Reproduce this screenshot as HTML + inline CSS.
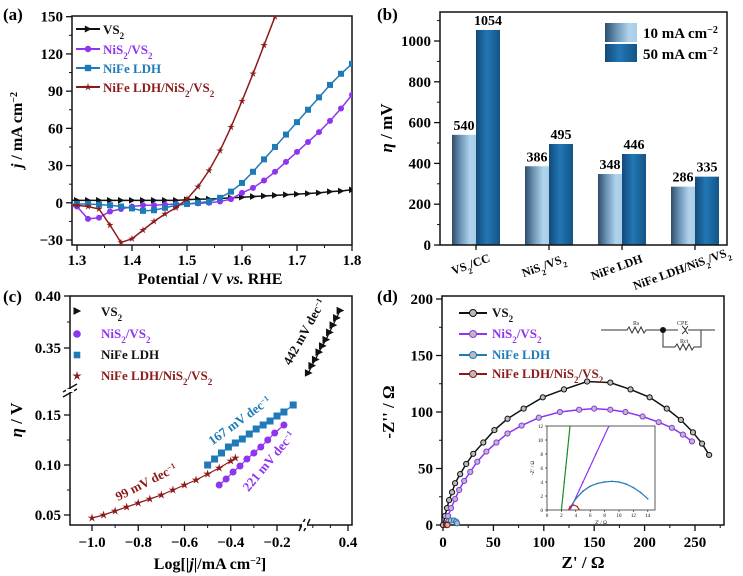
<!DOCTYPE html>
<html><head><meta charset="utf-8"><style>
html,body{margin:0;padding:0;background:#fff;}
svg{display:block;font-family:"Liberation Serif",serif;font-weight:bold;}
</style></head><body>
<svg id="fig" width="743" height="576" viewBox="0 0 743 576" xmlns="http://www.w3.org/2000/svg">
<defs>
<linearGradient id="g10" x1="0" x2="1" y1="0" y2="0"><stop offset="0" stop-color="#2e4c69"/><stop offset="0.35" stop-color="#6b93b5"/><stop offset="0.75" stop-color="#b0d4ec"/><stop offset="1" stop-color="#a9cde6"/></linearGradient>
<linearGradient id="g50" x1="0" x2="1" y1="0" y2="0"><stop offset="0" stop-color="#124a78"/><stop offset="0.45" stop-color="#2277b5"/><stop offset="1" stop-color="#145485"/></linearGradient>
<clipPath id="clipA"><rect x="72" y="16" width="280" height="229"/></clipPath>
<clipPath id="clipInset"><rect x="547" y="426" width="108" height="84"/></clipPath>
</defs>

<text x="3" y="20" font-size="17">(a)</text>
<text x="377" y="20" font-size="17">(b)</text>
<text x="3" y="302" font-size="17">(c)</text>
<text x="377" y="302" font-size="17">(d)</text>

<g id="pa">
<text x="210" y="284" font-size="16" text-anchor="middle">Potential / V <tspan font-style="italic">vs.</tspan> RHE</text>
<text transform="translate(22,130) rotate(-90)" font-size="16" text-anchor="middle"><tspan font-style="italic">j</tspan> / mA cm<tspan baseline-shift="super" font-size="10">−2</tspan></text>
<g font-size="13">
<text x="103" y="34" fill="#111">VS<tspan baseline-shift="sub" font-size="9">2</tspan></text>
<text x="103" y="54" fill="#8e35ef">NiS<tspan baseline-shift="sub" font-size="9">2</tspan>/VS<tspan baseline-shift="sub" font-size="9">2</tspan></text>
<text x="103" y="73" fill="#1f7ab8">NiFe LDH</text>
<text x="103" y="92" fill="#8b1a1a">NiFe LDH/NiS<tspan baseline-shift="sub" font-size="9">2</tspan>/VS<tspan baseline-shift="sub" font-size="9">2</tspan></text>
</g>
</g>

<g id="pb">
<text transform="translate(392,128) rotate(-90)" font-size="17" text-anchor="middle"><tspan font-style="italic">η</tspan> / mV</text>
<rect x="605" y="23" width="32" height="19" fill="url(#g10)"/>
<rect x="605" y="44" width="32" height="18" fill="url(#g50)"/>
<text x="643" y="38" font-size="15">10 mA cm<tspan baseline-shift="super" font-size="10">−2</tspan></text>
<text x="643" y="59" font-size="15">50 mA cm<tspan baseline-shift="super" font-size="10">−2</tspan></text>
</g>

<g id="pc">
<text x="210" y="569" font-size="16" text-anchor="middle">Log[|<tspan font-style="italic">j</tspan>|/mA cm<tspan baseline-shift="super" font-size="10">−2</tspan>]</text>
<text transform="translate(22,420) rotate(-90)" font-size="17" text-anchor="middle"><tspan font-style="italic">η</tspan> / V</text>
<g font-size="13">
<text x="101" y="316" fill="#111">VS<tspan baseline-shift="sub" font-size="9">2</tspan></text>
<text x="101" y="338" fill="#8e35ef">NiS<tspan baseline-shift="sub" font-size="9">2</tspan>/VS<tspan baseline-shift="sub" font-size="9">2</tspan></text>
<text x="101" y="359" fill="#111">NiFe LDH</text>
<text x="101" y="380" fill="#8b1a1a">NiFe LDH/NiS<tspan baseline-shift="sub" font-size="9">2</tspan>/VS<tspan baseline-shift="sub" font-size="9">2</tspan></text>
</g>
<text transform="translate(308,334) rotate(-61)" font-size="13" text-anchor="middle" fill="#111">442 mV dec<tspan baseline-shift="super" font-size="8">−1</tspan></text>
<text transform="translate(242,424) rotate(-36)" font-size="13" text-anchor="middle" fill="#1f7ab8">167 mV dec<tspan baseline-shift="super" font-size="8">−1</tspan></text>
<text transform="translate(272,464) rotate(-50)" font-size="13" text-anchor="middle" fill="#8e35ef">221 mV dec<tspan baseline-shift="super" font-size="8">−1</tspan></text>
<text transform="translate(148,486) rotate(-27)" font-size="13" text-anchor="middle" fill="#8b1a1a">99 mV dec<tspan baseline-shift="super" font-size="8">−1</tspan></text>
</g>

<g id="pd">
<text x="583" y="568" font-size="17" text-anchor="middle">Z' / Ω</text>
<text transform="translate(394,412) rotate(-90)" font-size="17" text-anchor="middle">-Z'' / Ω</text>
<g id="dLegend" font-size="13">
<text x="492" y="317" fill="#111">VS<tspan baseline-shift="sub" font-size="9">2</tspan></text>
<text x="492" y="338" fill="#8e35ef">NiS<tspan baseline-shift="sub" font-size="9">2</tspan>/VS<tspan baseline-shift="sub" font-size="9">2</tspan></text>
<text x="492" y="359" fill="#1f7ab8">NiFe LDH</text>
<text x="492" y="378" fill="#8b1a1a">NiFe LDH/NiS<tspan baseline-shift="sub" font-size="9">2</tspan>/VS<tspan baseline-shift="sub" font-size="9">2</tspan></text>
</g>
<g stroke="#333" stroke-width="1" fill="none">
<path d="M601,330 H627 l2,-3 l3,6 l3,-6 l3,6 l3,-6 l3,6 l2,-3 H678 M682,326 l4,4 l-4,4 M688,326 l-3,4 l3,4 M688,330 H715 M663,330 V347 H675 l2,-3 l3,6 l3,-6 l3,6 l3,-6 l3,6 l2,-3 H701 V330"/>
</g>
<circle cx="663" cy="330" r="3" fill="#111"/>
<text x="633" y="325" font-size="6" font-weight="normal" fill="#333">Rs</text>
<text x="677" y="325" font-size="6" font-weight="normal" fill="#333">CPE</text>
<text x="680" y="343" font-size="6" font-weight="normal" fill="#333">Rct</text>
</g>
</svg>
<script>
const NS = 'http://www.w3.org/2000/svg';
const svg = document.getElementById('fig');

// Panel a: LSV
const aPotential = [1.28,1.30,1.32,1.34,1.36,1.38,1.40,1.42,1.44,1.46,1.48,1.50,1.52,1.54,1.56,1.58,1.60,1.62,1.64,1.66,1.68,1.70,1.72,1.74,1.76,1.78,1.80];
const aVS2 = [2,2,2,2,2,2,2,2,2,2,2,2.5,3,3,3.5,4,4.5,5,5.5,6,6.5,7,7.5,8,9,9.5,10.5];
const aNiS2 = [-3,-3,-13,-12,-7,-5,-3,-2,-2,-1.5,-1,-1,-0.5,0,1,3,8,12,18,25,33,41,49,57,66,76,87];
const aNiFe = [-1,-1,-1,-1.5,-2,-3,-4.5,-6.5,-6,-4,-2,-1,0,1,4,9,16,25,35,45,55,65,75,85,95,104,112];
const aComposite = [-2,-2,-3,-5,-18,-32,-29,-22,-15,-9,-4,3,13,26,42,61,82,104,127,150,175,200,220,240,260,280,300];
const aYTicks = [-30,0,30,60,90,120,150];
const aXTicks = [1.3,1.4,1.5,1.6,1.7,1.8];

// Panel b
const bCategories = ['VS2/CC','NiS2/VS2','NiFe LDH','NiFe LDH/NiS2/VS2'];
const b10 = [540,386,348,286];
const b50 = [1054,495,446,335];
const bYTicks = [0,200,400,600,800,1000];

// Panel c
const cVS2x = [0.310,0.318,0.326,0.334,0.342,0.350,0.358,0.366,0.374,0.382];
const cVS2y = [0.326,0.333,0.339,0.346,0.352,0.358,0.365,0.372,0.379,0.386];
const cNiS2x = [-0.45,-0.42,-0.39,-0.36,-0.33,-0.30,-0.27,-0.24,-0.21,-0.17];
const cNiS2y = [0.080,0.086,0.093,0.099,0.106,0.112,0.118,0.125,0.132,0.140];
const cNiFex = [-0.50,-0.47,-0.44,-0.41,-0.38,-0.35,-0.32,-0.29,-0.26,-0.23,-0.20,-0.17,-0.13];
const cNiFey = [0.100,0.106,0.112,0.118,0.122,0.126,0.131,0.136,0.140,0.144,0.149,0.153,0.160];
const cCompx = [-1.0,-0.95,-0.9,-0.85,-0.8,-0.75,-0.7,-0.65,-0.6,-0.55,-0.5,-0.45,-0.4,-0.38];
const cCompy = [0.047,0.050,0.054,0.058,0.062,0.066,0.070,0.075,0.080,0.085,0.091,0.097,0.104,0.107];
const cYTicksLow = [0.05,0.10,0.15];
const cYTicksHigh = [0.35,0.40];
const cXTicks = [-1.0,-0.8,-0.6,-0.4,-0.2];

// Panel d
const dVS2 = [[0,0],[2,8],[4,15],[6,22],[9,29],[12,37],[17,45],[23,54],[30,63],[40,73],[51,84],[64,94],[80,103],[99,113],[120,120],[143,127],[166,126],[186,120],[205,113],[222,103],[236,93],[248,82],[257,72],[264,62]];
const dNiS2 = [[3,0],[5,8],[8,15],[12,23],[16,31],[21,39],[27,47],[34,56],[43,65],[53,73],[64,81],[78,88],[95,95],[116,100],[135,102],[150,103],[166,102],[181,100],[198,96],[214,91],[227,86],[238,80],[247,74]];
const dNiFe = [[3,0],[5,3],[8,4],[11,4],[13,3],[14,1.5]];
const dComp = [[3,0],[3.3,0.5],[3.8,0.6],[4.2,0.3],[4.4,0]];
const dXTicks = [0,50,100,150,200,250];
const dYTicks = [0,50,100,150,200];
const inGreen = [[2,0],[2.2,2],[2.4,4],[2.6,6],[2.8,8],[3.0,10],[3.2,12]];
const inPurple = [[3.2,0],[4.1,2],[5,4],[5.9,6],[6.8,8],[7.7,10],[8.6,12]];
const inBlue = [[3,0],[4,1.6],[5,2.7],[6,3.4],[7,3.8],[8,4],[9,4.1],[10,4],[11,3.7],[12,3.2],[13,2.5],[14,1.6]];
const inRed = [[3,0],[3.2,0.5],[3.7,0.7],[4.2,0.5],[4.5,0]];
const inXTicks = [0,2,4,6,8,10,12,14];
const inYTicks = [0,2,4,6,8,10,12];

const xA = v => 77 + (v - 1.3) * 550;
const yA = v => 202.8 - v * 1.2407;
const yB = v => 245 - v * 0.204;
const groupCenter = i => 476 + i * 73;
const xC = v => v >= 0.25 ? 348 - (0.4 - v) * 440 : 92 + (v + 1.0) * 231.25;
const yC = v => v >= 0.25 ? 296 + (0.40 - v) / 0.05 * 52 : 515 - (v - 0.05) / 0.05 * 50;
const xD = v => 443 + v * 1.008;
const yD = v => 525 - v * 1.13;
const xI = v => 547 + v * 7.2;
const yI = v => 510 - v * 7.0;

const COL = {vs2:'#111', nis2:'#8e35ef', nife:'#1f7ab8', comp:'#8b1a1a'};

function mk(tag, attrs, parent) {
  const e = document.createElementNS(NS, tag);
  for (const k in attrs) e.setAttribute(k, attrs[k]);
  (parent || svg).appendChild(e);
  return e;
}
function group(name) {
  const g = mk('g', {});
  
  
  return g;
}
function frame(x, y, w, h, name) {
  const r = mk('rect', {x:x, y:y, width:w, height:h, fill:'none', stroke:'#111', 'stroke-width':1.5});
  
  
}
function tickLine(x1, y1, x2, y2, g, w) {
  const l = mk('line', {x1:x1, y1:y1, x2:x2, y2:y2, stroke:'#111', 'stroke-width':w || 1.3}, g);
  
  
}
function label(x, y, txt, g, size, anchor) {
  const t = mk('text', {x:x, y:y, 'font-size':size || 15, 'text-anchor':anchor || 'middle'}, g);
  t.textContent = txt;
  
  
  return t;
}
function fmt(v, d) { return (v < 0 ? '−' : '') + Math.abs(v).toFixed(d); }

function marker(type, cx, cy, color, g, s) {
  s = s || 3.5;
  let e;
  if (type === 'circle') e = mk('circle', {cx:cx, cy:cy, r:s, fill:color}, g);
  else if (type === 'ocircle') e = mk('circle', {cx:cx, cy:cy, r:s, fill:'#bbb', stroke:color, 'stroke-width':1}, g);
  else if (type === 'square') e = mk('rect', {x:cx - s, y:cy - s, width:2*s, height:2*s, fill:color}, g);
  else if (type === 'tri') e = mk('path', {d:`M${cx-s},${cy-s*1.1} L${cx+s*1.2},${cy} L${cx-s},${cy+s*1.1} Z`, fill:color}, g);
  else {
    let d = '';
    for (let k = 0; k < 10; k++) {
      const r = k % 2 ? s * 0.45 : s * 1.3;
      const a = -Math.PI/2 + k * Math.PI/5;
      d += (k ? 'L' : 'M') + (cx + r*Math.cos(a)).toFixed(2) + ',' + (cy + r*Math.sin(a)).toFixed(2);
    }
    e = mk('path', {d:d + 'Z', fill:color}, g);
  }
  
  
}
function polyline(pts, color, g, w, name) {
  const p = mk('polyline', {points: pts.map(p => p[0].toFixed(2)+','+p[1].toFixed(2)).join(' '), fill:'none', stroke:color, 'stroke-width':w || 1.5}, g);
  
  
  return p;
}

// PANEL A
(function(){
  const g = group('a-axes');
  frame(72, 16, 280, 229, 'a-plot-frame');
  aYTicks.forEach(v => { tickLine(72, yA(v), 66, yA(v), g); label(63, yA(v)+5, fmt(v,0), g, 15, 'end'); });
  aYTicks.slice(0,-1).forEach(v => tickLine(72, yA(v+15), 69, yA(v+15), g, 1));
  aXTicks.forEach(v => { tickLine(xA(v), 245, xA(v), 251, g); label(xA(v), 265, v.toFixed(1), g); });
  aXTicks.slice(0,-1).forEach(v => tickLine(xA(v+0.05), 245, xA(v+0.05), 248, g, 1));
  const series = [[aVS2,'vs2','tri','a-series-vs2'],[aNiS2,'nis2','circle','a-series-nis2'],[aNiFe,'nife','square','a-series-nife'],[aComposite,'comp','star','a-series-composite']];
  series.forEach(s => {
    const sg = group(s[3]);
    sg.setAttribute('clip-path', 'url(#clipA)');
    polyline(aPotential.map((x,i) => [xA(x), yA(s[0][i])]), COL[s[1]], sg, 1.5, s[3] + '-line');
    aPotential.forEach((x,i) => marker(s[2], xA(x), yA(s[0][i]), COL[s[1]], sg, 3));
  });
  const lg = group('a-legend-markers');
  [['vs2','tri',29],['nis2','circle',49],['nife','square',68],['comp','star',87]].forEach(r => {
    polyline([[76,r[2]],[100,r[2]]], COL[r[0]], lg, 2, 'a-legend-line');
    marker(r[1], 88, r[2], COL[r[0]], lg, 3.2);
  });
})();

// PANEL B
(function(){
  const g = group('b-axes');
  bCategories.forEach((c,i) => {
    const cx = groupCenter(i);
    const r1 = mk('rect', {x:cx-24, y:yB(b10[i]), width:24, height:245-yB(b10[i]), fill:'url(#g10)'});
    
    
    const r2 = mk('rect', {x:cx, y:yB(b50[i]), width:24, height:245-yB(b50[i]), fill:'url(#g50)'});
    
    
    const t1 = label(cx-12, yB(b10[i])-5, String(b10[i]), g, 14);
    
    const t2 = label(cx+12, yB(b50[i])-5, String(b50[i]), g, 14);
    
    const lab = mk('text', {transform:`translate(${cx-4 - (i===3?8:0)},${268+i*1.5}) rotate(-20)`, 'font-size':12, 'text-anchor':'middle'}, g);
    
    
    const parts = c.split(/(2)/);
    parts.forEach(p => {
      if (!p) return;
      const ts = mk('tspan', p === '2' ? {'baseline-shift':'sub','font-size':8} : {}, lab);
      ts.textContent = p === '2' ? '2' : p.replace(' LDH', '  LDH');
    });
    tickLine(cx, 245, cx, 250, g);
  });
  frame(440, 12, 287, 233, 'b-plot-frame');
  bYTicks.forEach(v => { tickLine(440, yB(v), 434, yB(v), g); label(431, yB(v)+5, String(v), g, 15, 'end'); });
  bYTicks.forEach(v => tickLine(440, yB(v+100), 437, yB(v+100), g, 1));
})();

// PANEL C
(function(){
  const g = group('c-axes');
  frame(70, 296, 282, 229, 'c-plot-frame');
  cYTicksLow.forEach(v => { tickLine(70, yC(v), 64, yC(v), g); label(61, yC(v)+5, v.toFixed(2), g, 15, 'end'); });
  cYTicksHigh.forEach(v => { tickLine(70, yC(v), 64, yC(v), g); label(61, yC(v)+5, v.toFixed(2), g, 15, 'end'); });
  [0.075,0.125].forEach(v => tickLine(70, yC(v), 67, yC(v), g, 1));
  [0.375].forEach(v => tickLine(70, yC(v), 67, yC(v), g, 1));
  cXTicks.forEach(v => { tickLine(xC(v), 525, xC(v), 531, g); label(xC(v), 547, fmt(v,1), g); });
  [-0.9,-0.7,-0.5,-0.3,-0.1].forEach(v => tickLine(xC(v), 525, xC(v), 528, g, 1));
  tickLine(348, 525, 348, 531, g); label(348, 547, '0.4', g);
  [0.32,0.36].forEach(v => tickLine(xC(v), 525, xC(v), 528, g, 1));
  const br = mk('path', {d:'M63,392 L77,384 M63,397 L77,389 M299,531 L305,519 M304,531 L310,519', stroke:'#111', 'stroke-width':1.5, fill:'none'});
  
  
  const wb = mk('path', {d:'M66,389 L74,389 L74,392 L66,392 Z M302,522 L307,522 L307,528 L302,528 Z', fill:'#fff'});
  
  
  const series = [[cVS2x,cVS2y,'vs2','tri','c-series-vs2'],[cNiS2x,cNiS2y,'nis2','circle','c-series-nis2'],[cNiFex,cNiFey,'nife','square','c-series-nife'],[cCompx,cCompy,'comp','star','c-series-composite']];
  series.forEach(s => {
    const sg = group(s[4]);
    polyline(s[0].map((x,i) => [xC(x), yC(s[1][i])]), COL[s[2]], sg, 1.2, s[4] + '-fit');
    s[0].forEach((x,i) => marker(s[3], xC(x), yC(s[1][i]), COL[s[2]], sg, 3.5));
  });
  const lg = group('c-legend-markers');
  marker('tri', 77, 311, COL.vs2, lg, 3.5);
  marker('circle', 77, 334, COL.nis2, lg, 3.8);
  marker('square', 77, 355, COL.nife, lg, 3.3);
  marker('star', 77, 376, COL.comp, lg, 3.8);
})();

// PANEL D
(function(){
  const g = group('d-axes');
  frame(442, 296, 282, 229, 'd-plot-frame');
  dYTicks.forEach(v => { tickLine(442, yD(v), 436, yD(v), g); label(433, yD(v)+5, String(v), g, 15, 'end'); });
  dYTicks.slice(0,-1).forEach(v => tickLine(442, yD(v+25), 439, yD(v+25), g, 1));
  dXTicks.forEach(v => { tickLine(xD(v), 525, xD(v), 531, g); label(xD(v), 547, String(v), g); });
  dXTicks.forEach(v => tickLine(xD(v+25), 525, xD(v+25), 528, g, 1));
  const series = [[dVS2,'vs2','d-series-vs2'],[dNiS2,'nis2','d-series-nis2'],[dNiFe,'nife','d-series-nife'],[dComp,'comp','d-series-composite']];
  series.forEach(s => {
    const sg = group(s[2]);
    polyline(s[0].map(p => [xD(p[0]), yD(p[1])]), COL[s[1]], sg, 1.5, s[2] + '-line');
    s[0].forEach(p => marker('ocircle', xD(p[0]), yD(p[1]), COL[s[1]], sg, 2.6));
  });
  const lg = group('d-legend-markers');
  [['vs2',313],['nis2',334],['nife',355],['comp',374]].forEach(r => {
    polyline([[459,r[1]],[487,r[1]]], COL[r[0]], lg, 2, 'd-legend-line');
    marker('ocircle', 473, r[1], COL[r[0]], lg, 3.5);
  });
  svg.appendChild(document.getElementById('dLegend'));
  const ig = group('d-inset');
  const bg = mk('rect', {x:547, y:426, width:108, height:84, fill:'#fff', stroke:'#333', 'stroke-width':0.8}, ig);
  
  
  inXTicks.forEach(v => { tickLine(xI(v), 510, xI(v), 512, ig, 0.6); label(xI(v), 517, String(v), ig, 5).setAttribute('font-weight','normal'); });
  inYTicks.forEach(v => { tickLine(547, yI(v), 545, yI(v), ig, 0.6); label(543, yI(v)+2, String(v), ig, 5, 'end').setAttribute('font-weight','normal'); });
  const ixt = label(601, 524, "Z' / Ω", ig, 5); ixt.setAttribute('font-weight','normal');
  const iyt = mk('text', {transform:'translate(534,468) rotate(-90)', 'font-size':5, 'font-weight':'normal', 'text-anchor':'middle'}, ig);
  iyt.textContent = "-Z'' / Ω";
  
  
  const isg = group('inset-series');
  isg.setAttribute('clip-path', 'url(#clipInset)');
  [[inGreen,'#1a8a2a'],[inPurple,COL.nis2],[inBlue,COL.nife],[inRed,'#cc2020']].forEach(s => {
    polyline(s[0].map(p => [xI(p[0]), yI(p[1])]), s[1], isg, 1.2, 'inset-line');
    s[0].forEach(p => marker('circle', xI(p[0]), yI(p[1]), s[1], isg, 0.8));
  });
})();
</script>
</body></html>
